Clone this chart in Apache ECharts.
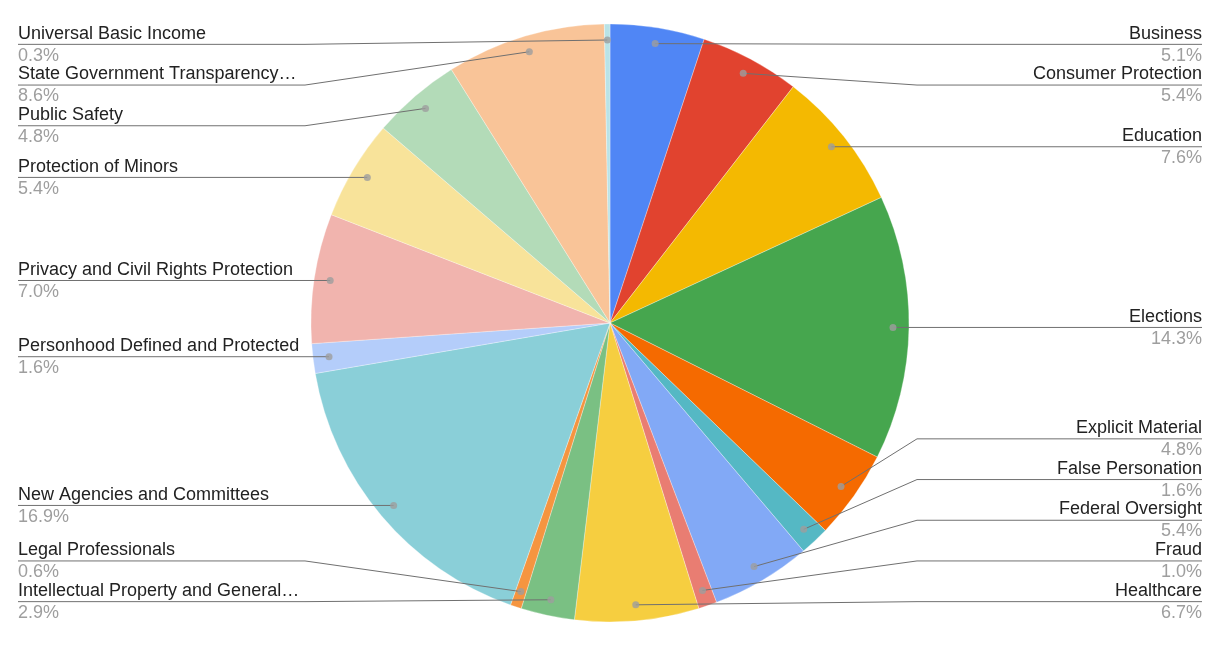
<!DOCTYPE html>
<html>
<head>
<meta charset="utf-8">
<script src="https://cdn.jsdelivr.net/npm/echarts@6/dist/echarts.min.js"></script>
<style>
html,body{margin:0;padding:0;background:#fff;}
#c{width:1210px;height:647px;}
</style>
</head>
<body>
<div id="c"></div>
<script>
const categories = ['Business','Consumer Protection','Education','Elections','Explicit Material','False Personation','Federal Oversight','Fraud','Healthcare','Intellectual Property and General\u2026','Legal Professionals','New Agencies and Committees','Personhood Defined and Protected','Privacy and Civil Rights Protection','Protection of Minors','Public Safety','State Government Transparency\u2026','Universal Basic Income'];
const values = [5.1,5.4,7.6,14.3,4.8,1.6,5.4,1.0,6.7,2.9,0.6,16.9,1.6,7.0,5.4,4.8,8.6,0.3];
const colors = ['#5086f5','#e1432f','#f4b901','#46a64e','#f56a00','#55b8c4','#82a9f6','#e97d72','#f6ce40','#7ac083','#f59540','#8acfd8','#b4cdfa','#f1b4ae','#f8e39a','#b3dbb8','#f9c498','#b9e3e7'];

const CX = 610, CY = 323, R = 299, RDOT = 283;
const BOX = {left: 18, top: 20, right: 8, bottom: 25};
const LABEL_H = 40.7;
const FONT = '"Liberation Sans", Arial, sans-serif';

const total = values.reduce((a,b)=>a+b,0);
let acc = 0;
const dotData = values.map(v => { const mid = acc + v/2; acc += v; return [RDOT/R, mid/total*100]; });

const pieData = categories.map((c,i)=>({name:c, value:values[i], itemStyle:{color:colors[i]}}));

// dot positions reported by the library, and the resulting label rows
const dotInfo = {};
let labelY = null;

function computeLabelY() {
  const top = CY - R, bottom = CY + R, H = LABEL_H;
  const res = {};
  [true, false].forEach(side => {
    const items = Object.keys(dotInfo).map(Number)
      .filter(i => dotInfo[i].left === side)
      .sort((a,b) => dotInfo[a].y - dotInfo[b].y);
    const ys = items.map(i => dotInfo[i].y);
    for (let k = 0; k < ys.length; k++) {
      ys[k] = Math.max(ys[k], top + H/2, k ? ys[k-1] + H : -Infinity);
    }
    for (let k = ys.length - 1; k >= 0; k--) {
      ys[k] = Math.min(ys[k], bottom - H/2, k < ys.length - 1 ? ys[k+1] - H : Infinity);
    }
    items.forEach((i,k) => res[i] = ys[k]);
  });
  return res;
}

const option = {
  animation:false,
  backgroundColor:'#fff',
  polar:{center:[CX,CY], radius:R},
  angleAxis:{type:'value', min:0, max:100, startAngle:90, clockwise:true, show:false},
  radiusAxis:{type:'value', min:0, max:1, show:false},
  series:[
    {
      type:'pie', ...BOX, z:2,
      center:[CX-BOX.left, CY-BOX.top], radius:[0,R],
      startAngle:90, clockwise:true,
      silent:true,
      label:{show:false}, labelLine:{show:false},
      itemStyle:{borderColor:'rgba(255,255,255,0.6)', borderWidth:0.5},
      data:pieData
    },
    {
      type:'pie', ...BOX, z:3,
      center:[CX-BOX.left, CY-BOX.top], radius:[0,RDOT],
      startAngle:90, clockwise:true,
      silent:true,
      avoidLabelOverlap:true,
      itemStyle:{color:'rgba(0,0,0,0)'},
      label:{
        show:true, position:'outside', alignTo:'edge', edgeDistance:0, distanceToLabelLine:0,
        fontFamily:FONT, fontSize:18,
        formatter: p => '{n|' + p.name + '}\n{p|' + p.percent.toFixed(1) + '%}',
        rich:{
          n:{color:'#222222', fontSize:18, lineHeight:22, fontFamily:FONT},
          p:{color:'#9e9e9e', fontSize:18, lineHeight:22, fontFamily:FONT}
        }
      },
      labelLine:{show:true, length:0, length2:0, smooth:false, lineStyle:{color:'#707070', width:1}},
      labelLayout: function(p){
        const pts = p.labelLinePoints;
        if (!pts) return {};
        const dot = pts[0];
        const left = dot[0] < CX;
        dotInfo[p.dataIndex] = {y: dot[1], left: left};
        const ly = (labelY && labelY[p.dataIndex] != null) ? labelY[p.dataIndex] : dot[1];
        const r = p.labelRect;
        const elbowX = left ? CX - R - 6 : CX + R + 8;
        const endX = left ? r.x : r.x + r.width;
        return {y: ly + 0.2, labelLinePoints:[dot,[elbowX,ly],[endX,ly]]};
      },
      data:categories.map((c,i)=>({name:c, value:values[i]}))
    },
    {
      type:'scatter', coordinateSystem:'polar', silent:true,
      symbol:'circle', symbolSize:7,
      itemStyle:{color:'#9e9e9e'},
      z:5,
      data:dotData
    }
  ]
};

const chart = echarts.init(document.getElementById('c'), null, {renderer:'canvas'});
chart.setOption(option);
function relayout(){
  labelY = computeLabelY();
  chart.setOption(option, true);
}
if (Object.keys(dotInfo).length === categories.length) {
  relayout();
} else {
  chart.on('finished', function once(){ chart.off('finished', once); relayout(); });
}
</script>
</body>
</html>
